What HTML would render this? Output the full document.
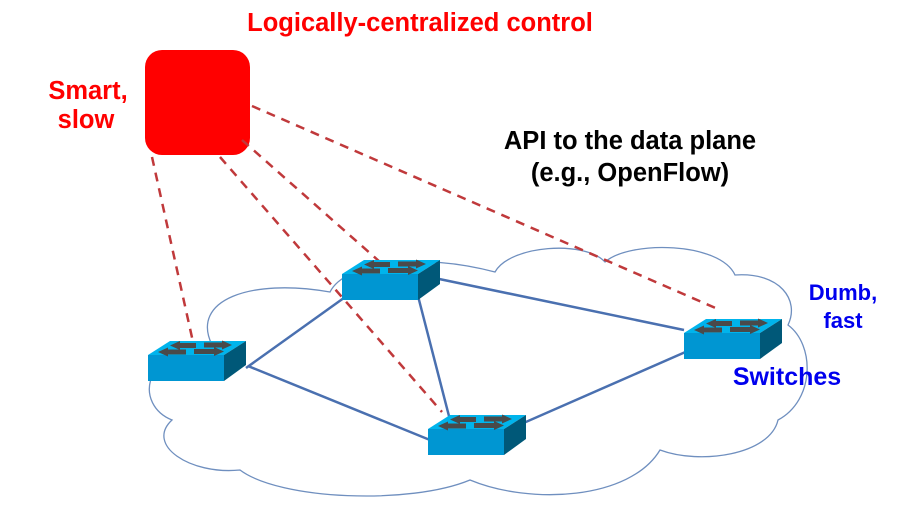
<!DOCTYPE html>
<html><head><meta charset="utf-8"><style>
html,body{margin:0;padding:0;background:#fff;}
svg{display:block;}
text{font-family:"Liberation Sans",sans-serif;font-weight:bold;}
</style></head><body>
<svg width="912" height="508" viewBox="0 0 912 508" xmlns="http://www.w3.org/2000/svg">
<defs>
<g id="sw">
  <polygon points="0,0 76,0 98,-14 22,-14" fill="#00b4ec"/>
  <rect x="0" y="0" width="76" height="26" fill="#0096d2"/>
  <polygon points="76,0 98,-14 98,10 76,26" fill="#005878"/>
  <g fill="#4a4a4a">
    <polygon points="22,-9.5 32,-14 32,-12 48,-12 48,-7 32,-7 32,-5"/>
    <polygon points="84,-10 74,-14.5 74,-12.5 56,-12.5 56,-7.5 74,-7.5 74,-5.5"/>
    <polygon points="10,-3 20,-7.5 20,-5.5 38,-5.5 38,-0.5 20,-0.5 20,1.5"/>
    <polygon points="76,-3.5 66,-8 66,-6 46,-6 46,-1 66,-1 66,1"/>
  </g>
</g>
</defs>
<path d="M212,345 C190,300 250,278 330,292 C345,262 420,252 495,272 C510,245 585,240 605,262 C630,240 720,242 735,275 C780,272 800,300 788,325 C815,345 815,400 778,420 C770,455 700,465 660,450 C630,500 530,505 470,480 C410,505 280,500 240,470 C190,475 145,445 172,420 C135,405 140,350 212,345 Z" fill="#fff" stroke="#6f8fbf" stroke-width="1.3"/>
<g stroke="#4a70b0" stroke-width="2.5">
<line x1="246" y1="368" x2="348" y2="295"/>
<line x1="248" y1="366" x2="430" y2="440"/>
<line x1="420" y1="275" x2="684" y2="330"/>
<line x1="418" y1="296" x2="450" y2="420"/>
<line x1="503" y1="432" x2="690" y2="350"/>
</g>
<rect x="145" y="50" width="105" height="105" rx="17" fill="#ff0000"/>
<g stroke="#c0393b" stroke-width="2.5" stroke-dasharray="9,7" fill="none">
<line x1="152" y1="157" x2="193" y2="342"/>
<line x1="220" y1="157" x2="442" y2="412"/>
<line x1="242" y1="140" x2="380" y2="262"/>
<line x1="252" y1="106" x2="720" y2="310"/>
</g>
<use href="#sw" x="148" y="355"/>
<use href="#sw" x="342" y="274"/>
<use href="#sw" x="428" y="429"/>
<use href="#sw" x="684" y="333"/>
<text x="420" y="31" fill="#f00" font-size="25.5" text-anchor="middle">Logically-centralized control</text>
<text x="88" y="99" fill="#f00" font-size="25.5" text-anchor="middle">Smart,</text>
<text x="86" y="128" fill="#f00" font-size="25.5" text-anchor="middle">slow</text>
<text x="630" y="149" fill="#000" font-size="25.5" text-anchor="middle">API to the data plane</text>
<text x="630" y="181" fill="#000" font-size="25.5" text-anchor="middle">(e.g., OpenFlow)</text>
<text x="843" y="300" fill="#0000ee" font-size="22" text-anchor="middle">Dumb,</text>
<text x="843" y="328" fill="#0000ee" font-size="22" text-anchor="middle">fast</text>
<text x="787" y="385" fill="#0000ee" font-size="25" text-anchor="middle">Switches</text>
</svg>
</body></html>
